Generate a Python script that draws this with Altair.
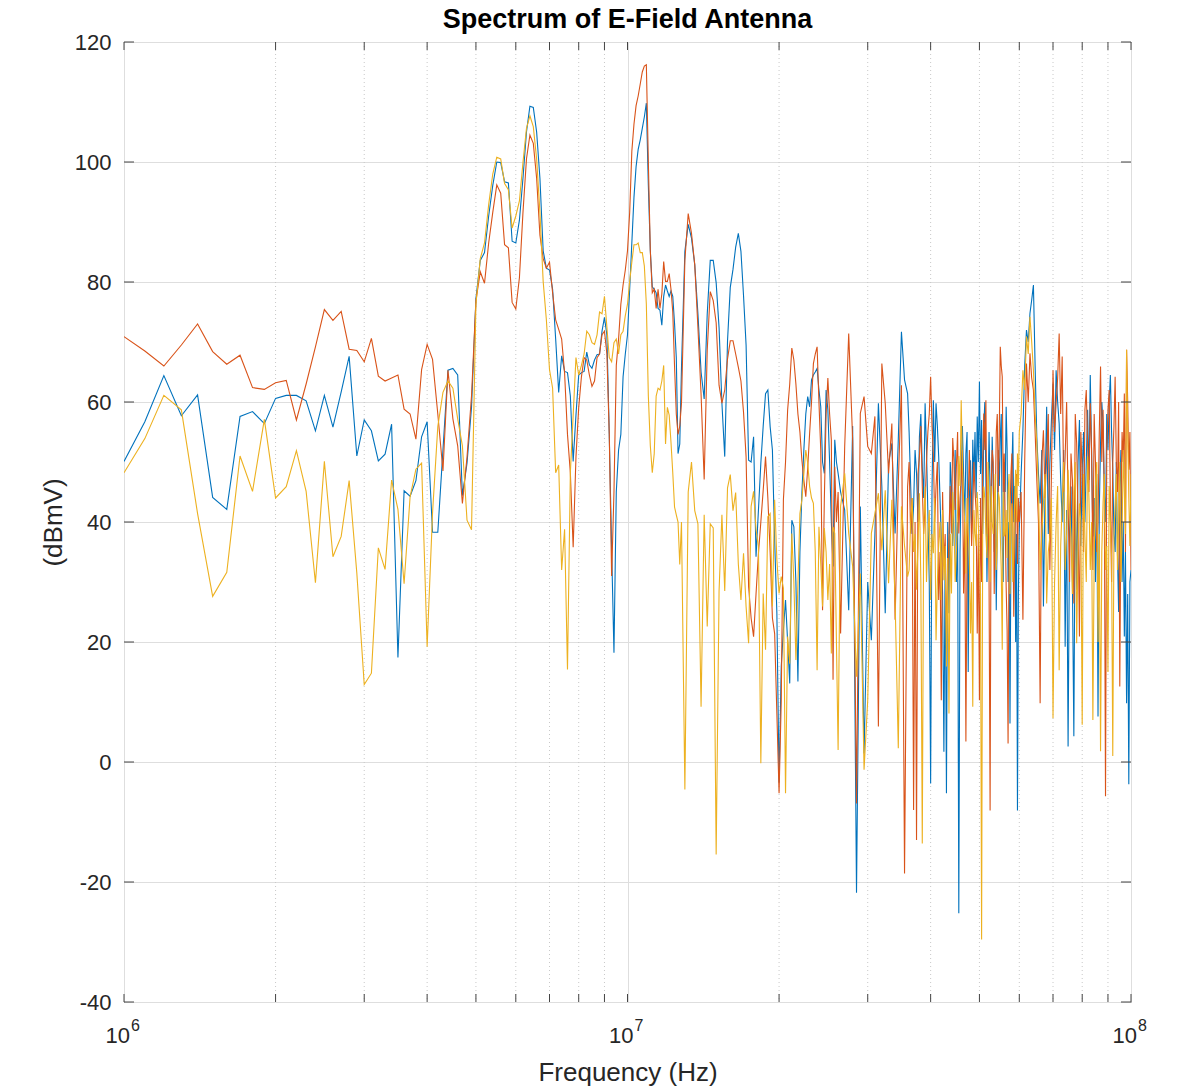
import altair as alt
import pandas as pd

TITLE = "Spectrum of E-Field Antenna"

# ---------------- frequency grid (MHz) ----------------
F_A = [round(1.0 + 0.1 * i, 2) for i in range(118)]    # 1.0 .. 12.7
F_B = [round(12.8 + 0.2 * i, 2) for i in range(37)]    # 12.8 .. 20.0
F_C = [round(20.2 + 0.2 * i, 2) for i in range(31)]    # 20.2 .. 26.2
F_D1 = [round(26.5 + 0.5 * i, 2) for i in range(20)]   # 26.5 .. 36.0
F_D2 = [round(36.25 + 0.25 * i, 2) for i in range(96)] # 36.25 .. 60.0
F_E = [round(60.5 + 0.5 * i, 2) for i in range(80)]    # 60.5 .. 100
FREQ_MHZ = F_A + F_B + F_C + F_D1 + F_D2 + F_E

# ---------------- series 1 (blue) ----------------
BLUE_A = [50.1, 56.7, 64.4, 57.7, 61.2, 44.1, 42.1, 57.6, 58.4, 56.4,
          60.6, 61.1, 61.1, 60.2, 55.2, 61.1, 55.8, 61.7, 67.6, 51.0,
          57.0, 55.2, 50.2, 51.3, 56.3, 17.4, 45.2, 44.3, 46.9, 54.2,
          56.7, 38.3, 38.3, 52.0, 65.3, 65.6, 64.5, 44.4, 49.8, 59.1,
          77.2, 83.6, 84.9, 91.0, 96.1, 100.0, 99.9, 96.7, 96.5, 86.8,
          86.5, 90.3, 97.3, 105.0, 109.3, 109.1, 105.0, 97.3, 85.2, 82.3,
          82.0, 78.8, 70.5, 61.6, 67.7, 65.1, 64.9, 61.0, 50.1, 57.8,
          64.5, 64.9, 65.1, 68.3, 66.2, 65.6, 67.0, 67.9, 68.0, 71.8,
          74.1, 71.2, 54.6, 35.5, 18.2, 45.0, 52.0, 54.6, 64.2, 68.0,
          71.2, 78.8, 86.5, 94.1, 99.2, 102.1, 103.7, 105.6, 107.5, 109.8,
          96.1, 85.2, 79.2, 78.8, 78.2, 75.6, 75.3, 72.8, 77.6, 79.5,
          78.5, 77.6, 78.5, 77.6, 73.1, 67.4, 51.4, 53.0]
BLUE_B = [65.7, 85.1, 89.6, 87.3, 82.9, 74.7, 65.0, 60.5, 74.7, 83.6,
          83.6, 79.9, 72.4, 59.8, 50.9, 70.2, 79.1, 82.1, 85.8, 88.1,
          85.1, 77.7, 69.5, 50.3, 50.0, 54.2, 34.2, 42.0, 49.8, 56.0,
          61.4, 62.0, 55.9, 52.0, 37.0, 24.8, -3.4]
BLUE_C = [15.9, 22.0, 27.0, 20.0, 13.1, 40.3, 39.2, 30.0, 13.4, 35.0,
          44.8, 52.0, 58.0, 60.9, 59.2, 63.7, 64.5, 65.0, 65.6, 62.0,
          59.2, 50.0, 48.1, 62.0, 58.7, 50.0, 40.0, 32.6, 53.7, 50.0, 48.1]
BLUE_D1 = [45.0, 42.0, 25.3, 56.0, -21.8, 42.6, 1.4, 30.0, 20.3, 38.0,
           59.8, 45.9, 24.8, 49.8, 53.1, 38.1, 53.7, 71.7, 63.7, 61.4]
BLUE_D2 = [55.0, 46.4, 38.0, 42.6, 52.0, 48.1, 40.0, 54.2, 58.0, 49.2,
           44.0, 59.8, 52.0, 41.4, 30.0, -3.6, 45.0, 60.3, 50.0, 59.8,
           56.0, 50.9, 44.0, 37.0, 28.0, 1.7, 35.0, -5.2, 40.0, 24.8,
           50.0, 45.9, 36.0, 42.6, 52.0, 30.0, 40.0, -25.2, 35.0, 48.0,
           56.0, 48.1, 40.0, 51.4, 55.0, 15.0, 44.0, 50.3, 38.0, 53.7,
           47.0, 55.0, 44.0, 57.6, 50.0, 63.4, 48.0, 57.0, 38.0, 55.9,
           60.0, 47.0, 30.0, 42.6, 55.0, 45.0, 40.0, 54.2, 48.0, 35.0,
           45.0, 25.3, 40.0, 52.0, 46.0, 54.0, 58.0, 36.4, 30.0, 50.0,
           45.0, 59.2, 52.0, 30.0, 40.0, 6.4, 36.0, 48.7, 55.0, 40.0,
           46.0, 20.0, 38.0, -8.1, 28.0, 38.7]
BLUE_E = [48.0, 55.3, 66.0, 72.0, 70.0, 74.8, 77.0, 79.5, 66.0, 54.2,
          48.0, 43.1, 52.0, 25.9, 45.0, 59.2, 38.0, 49.8, 57.0, 63.1,
          52.0, 65.3, 60.0, 56.4, 47.0, 40.0, 52.0, 19.2, 42.0, 2.6,
          38.0, 45.9, 30.0, 4.3, 46.0, 28.7, 50.0, 57.0, 36.0, 48.7,
          55.0, 40.0, 50.0, 58.7, 47.0, 64.5, 52.0, 37.6, 44.0, 30.0,
          48.0, 7.6, 42.0, 53.1, 60.0, 56.4, 45.0, 40.0, 58.0, 52.0,
          60.0, 64.5, 55.0, 48.7, 38.0, 35.0, 50.0, 34.8, 25.0, 45.0,
          52.0, 30.0, 40.0, 20.9, 35.0, 9.8, 28.0, -3.7, 30.0, 32.0]

# ---------------- series 2 (red) ----------------
RED_A = [70.9, 68.5, 66.0, 69.5, 73.0, 68.4, 66.3, 67.8, 62.4, 62.1,
         63.2, 63.6, 57.0, 63.0, 69.2, 75.4, 73.6, 75.1, 68.8, 68.6,
         66.7, 70.6, 64.3, 63.5, 64.0, 64.5, 58.8, 58.0, 53.8, 65.4,
         69.6, 67.1, 58.0, 48.5, 65.3, 57.2, 52.7, 43.1, 50.8, 61.0,
         76.9, 81.7, 79.8, 86.5, 91.6, 96.2, 94.8, 86.2, 85.7, 76.6,
         75.5, 80.7, 91.6, 100.5, 104.5, 103.1, 97.3, 87.8, 83.9, 82.3,
         83.3, 78.2, 73.7, 72.1, 70.5, 64.8, 54.6, 48.2, 35.8, 50.8,
         59.1, 64.2, 67.4, 67.0, 64.5, 62.6, 63.5, 67.4, 68.0, 71.2,
         71.8, 68.0, 54.6, 31.0, 45.0, 66.1, 70.5, 76.3, 79.5, 82.0,
         85.2, 91.6, 101.8, 106.3, 109.4, 111.0, 113.0, 115.0, 116.0, 116.2,
         100.0, 85.2, 78.2, 78.8, 75.6, 78.8, 75.6, 78.0, 83.4, 80.1,
         80.1, 81.4, 78.8, 75.0, 66.0, 58.0, 54.6, 56.0]
RED_B = [59.8, 83.6, 91.4, 88.1, 82.9, 72.4, 61.3, 47.1, 68.7, 78.4,
         76.9, 73.2, 62.8, 59.8, 62.0, 67.2, 70.2, 70.2, 68.0, 65.8,
         63.5, 58.3, 50.9, 29.2, 24.0, 20.9, 28.0, 34.8, 40.0, 45.3,
         50.9, 44.0, 35.0, 24.0, 21.4, 8.0, -5.2]
RED_C = [10.3, 43.7, 50.0, 58.7, 63.0, 69.0, 67.0, 63.0, 58.0, 55.0,
         50.3, 47.0, 44.2, 49.0, 54.8, 60.0, 66.4, 68.0, 69.2, 60.0,
         52.0, 25.3, 43.7, 58.0, 64.0, 58.0, 53.7, 13.7, 49.2, 40.0, 45.0]
RED_D1 = [21.4, 52.6, 71.4, 53.7, -6.9, 58.1, 60.9, 52.6, 51.4, 57.6,
          5.9, 66.4, 59.8, 48.1, 56.4, 23.7, 46.4, 62.8, -18.6, 45.9]
RED_D2 = [50.0, 38.1, 44.0, -8.0, 40.0, -13.0, 48.0, 50.9, 56.0, 45.9,
          38.0, 43.1, 50.0, 55.0, 58.0, 64.2, 56.0, 51.4, 40.0, 45.9,
          50.0, 27.0, 35.0, 10.3, 45.0, 32.6, 38.0, 21.4, 30.0, 38.0,
          46.0, 38.1, 54.0, 50.0, 42.0, 49.2, 55.0, 38.1, 44.0, 47.0,
          52.0, 28.1, 40.0, 3.4, 35.0, 43.7, 52.0, 44.8, 36.0, 42.0,
          50.0, 45.0, 42.0, 21.4, 38.0, 10.3, 44.0, 30.0, 50.0, 58.1,
          52.0, 60.3, 38.0, 45.0, 30.0, -8.1, 46.0, 52.0, 50.0, 28.0,
          42.0, 55.0, 58.0, 45.0, 55.0, 69.2, 66.0, 64.2, 45.0, 51.4,
          40.0, 29.2, 22.0, 3.1, 35.0, 42.0, 48.0, 51.4, 40.0, 24.2,
          36.0, 43.1, 48.0, 33.0, 44.0, 40.0]
RED_E = [45.0, 23.7, 50.0, 66.4, 60.0, 68.1, 64.0, 62.0, 55.0, 47.0,
         40.0, 9.8, 50.0, 55.3, 44.0, 50.9, 58.0, 32.0, 48.0, 65.3,
         55.0, 59.8, 64.0, 71.4, 58.0, 67.6, 45.0, 50.9, 60.0, 43.1,
         30.0, 51.4, 47.0, 26.4, 58.0, 53.1, 40.0, 20.9, 55.0, 48.7,
         35.0, 58.7, 62.0, 53.0, 45.0, 59.8, 52.0, 32.0, 58.0, 50.0,
         35.0, 40.0, 55.0, 65.9, 50.0, 58.7, 45.0, -5.7, 52.0, 58.7,
         62.0, 43.0, 30.0, 50.0, 56.0, 64.2, 50.0, 45.0, 60.0, 12.6,
         42.0, 55.0, 50.0, 61.4, 35.0, 68.7, 60.0, 48.7, 55.0, 32.0]

# ---------------- series 3 (yellow) ----------------
YEL_A = [48.2, 53.9, 61.1, 58.7, 41.4, 27.6, 31.6, 51.0, 45.1, 57.1,
         44.0, 45.9, 51.9, 45.1, 29.9, 50.1, 34.2, 37.6, 46.9, 31.5,
         12.9, 14.8, 35.7, 32.1, 47.0, 42.1, 29.7, 44.2, 48.8, 49.8,
         19.2, 41.5, 55.9, 61.6, 63.5, 62.3, 57.2, 52.7, 40.3, 38.7,
         76.3, 83.9, 86.5, 92.9, 98.0, 100.8, 100.5, 96.4, 95.4, 89.0,
         91.0, 93.5, 99.9, 105.6, 107.7, 105.9, 100.5, 91.6, 80.1, 73.7,
         65.4, 62.3, 48.2, 49.5, 32.0, 38.8, 15.4, 48.2, 57.8, 67.4,
         64.5, 66.1, 68.0, 71.8, 71.2, 69.9, 69.6, 71.2, 75.0, 74.7,
         77.6, 72.5, 67.4, 66.7, 69.9, 70.5, 68.0, 71.2, 71.8, 74.4,
         76.3, 80.1, 83.3, 86.2, 86.2, 86.5, 84.9, 84.9, 82.7, 76.3,
         61.0, 52.7, 48.2, 51.4, 61.0, 62.3, 62.0, 63.5, 66.1, 53.0,
         59.1, 57.8, 53.3, 48.2, 42.5, 41.2, 40.0, 32.9]
YEL_B = [40.0, -4.6, 45.0, 50.0, 41.9, 39.7, 9.2, 41.2, 22.6, 39.7,
         39.0, -15.4, 28.5, 41.2, 28.5, 45.7, 47.9, 41.9, 44.9, 33.0,
         27.0, 34.8, 25.9, 19.8, 42.6, 45.1, 38.7, 36.0, -0.2, 28.1,
         18.7, 40.9, 41.4, 25.9, 43.7, 33.7, 28.1]
YEL_C = [30.9, 29.0, -5.2, 20.9, 16.4, 38.1, 30.0, 17.0, 29.8, 41.4,
         43.7, 48.0, 52.0, 49.8, 45.9, 44.0, 43.1, 35.0, 15.3, 39.2,
         33.0, 25.9, 39.0, 35.0, 27.0, 33.0, 18.1, 39.2, 38.1, 20.0, 2.0]
YEL_D1 = [42.6, 48.1, 38.1, 32.6, 14.2, 31.4, -1.3, 10.3, 38.1, 41.4,
          44.8, 35.3, 45.3, 29.8, 43.7, 27.0, 2.3, 42.6, 36.0, 30.9]
YEL_D2 = [32.0, 39.8, 44.0, 35.0, 38.0, 28.7, 36.0, 44.8, 30.0, -13.6,
          40.0, 45.9, 30.0, 38.1, 42.0, 27.0, 38.0, 34.8, 44.0, 20.3,
          30.0, 36.4, 40.0, 27.0, 42.0, 30.3, 36.0, 15.9, 34.0, 8.1,
          38.0, 28.1, 45.0, 40.0, 30.0, 35.0, 42.0, 51.0, 46.0, 60.3,
          50.0, 43.7, 40.0, 31.4, 44.0, 38.1, 34.0, 21.4, 30.0, 9.2,
          42.0, 38.1, 36.0, 45.0, 40.0, 33.0, 28.0, -29.6, 38.0, 45.9,
          44.0, 38.1, 34.0, 50.0, 42.0, 30.0, 46.0, 40.0, 38.0, 43.1,
          48.0, 32.0, 36.0, 45.0, 44.0, 38.0, 32.0, 18.7, 45.0, 37.6,
          38.0, 42.0, 34.0, 45.0, 48.0, 28.0, 40.0, 43.1, 30.0, 35.0,
          44.0, 48.7, 40.0, 51.4, 46.0, 55.0]
YEL_E = [58.0, 65.3, 62.0, 70.9, 68.0, 74.2, 70.0, 65.3, 58.0, 53.1,
         45.0, 32.0, 38.0, 43.1, 48.0, 26.4, 35.0, 37.6, 44.0, 7.3,
         30.0, 39.8, 46.0, 15.3, 36.0, 43.1, 50.0, 32.0, 38.0, 48.7,
         42.0, 37.6, 28.0, 45.0, 50.0, 19.8, 36.0, 43.1, 40.0, 6.2,
         48.0, 37.6, 30.0, 50.9, 44.0, 32.0, 40.0, 7.0, 34.0, 45.9,
         50.0, 20.0, 38.0, 1.8, 35.0, 43.1, 48.0, 32.0, 36.0, 15.0,
         46.0, 40.0, 34.0, 1.0, 38.0, 43.1, 48.0, 32.0, 40.0, 50.0,
         30.0, 37.6, 52.0, 45.0, 38.0, 68.7, 55.0, 44.0, 36.0, 48.0]

BLUE = BLUE_A + BLUE_B + BLUE_C + BLUE_D1 + BLUE_D2 + BLUE_E
RED = RED_A + RED_B + RED_C + RED_D1 + RED_D2 + RED_E
YELLOW = YEL_A + YEL_B + YEL_C + YEL_D1 + YEL_D2 + YEL_E
assert len(BLUE) == len(RED) == len(YELLOW) == len(FREQ_MHZ)

# ---------------- axis helpers ----------------
Y_TICKS = list(range(-40, 121, 20))
DECADES = [1e6, 1e7, 1e8]
EXPONENTS = ["6", "7", "8"]
MINOR = [m * d for d in (1e6, 1e7) for m in range(2, 10)]

COLORS = ["#0072BD", "#D95319", "#EDB120"]
FONT = "Liberation Sans"
W, H = 1007, 960

xs = alt.Scale(type="log", domain=[1e6, 1e8], nice=False)
ys = alt.Scale(domain=[-40, 120], nice=False, zero=False)

x_axis = alt.Axis(values=DECADES, labels=False, ticks=False, domain=False,
                  grid=True, gridColor="#dedede", gridWidth=1,
                  title="Frequency (Hz)", titleFont=FONT, titleFontSize=26,
                  titleFontWeight="normal", titleColor="#262626",
                  titleY=78, titleBaseline="alphabetic")
y_axis = alt.Axis(values=Y_TICKS, ticks=False, domain=False, grid=True,
                  gridColor="#dedede", gridWidth=1,
                  labelFont=FONT, labelFontSize=22, labelColor="#262626",
                  labelPadding=13, labelExpr="'' + datum.value",
                  title="(dBmV)", titleFont=FONT, titleFontSize=26,
                  titleFontWeight="normal", titleColor="#262626",
                  titleAngle=270, titleX=-63, titleY=480, titleAlign="center",
                  titleBaseline="alphabetic")


def X(field):
    return alt.X(field, type="quantitative", scale=xs, axis=x_axis)


def Y(field):
    return alt.Y(field, type="quantitative", scale=ys, axis=y_axis)


freq_hz = [f * 1e6 for f in FREQ_MHZ]

minor_grid = alt.Chart(pd.DataFrame({"t": MINOR})).mark_rule(
    color="#c8c8c8", strokeDash=[1, 3], strokeWidth=1
).encode(x=X("t"))

lines = []
for vals, col in zip([BLUE, RED, YELLOW], COLORS):
    df = pd.DataFrame({"f": freq_hz, "v": vals})
    lines.append(
        alt.Chart(df).mark_line(color=col, strokeWidth=1.1, clip=True)
        .encode(x=X("f"), y=Y("v"))
    )

ydf = pd.DataFrame({"v": Y_TICKS})
yt_left = alt.Chart(ydf).mark_rule(color="#444444").encode(
    y=Y("v"), x=alt.value(0), x2=alt.value(10))
yt_right = alt.Chart(ydf).mark_rule(color="#444444").encode(
    y=Y("v"), x=alt.value(W - 10), x2=alt.value(W))

xdf = pd.DataFrame({"t": DECADES + MINOR})
xt_bottom = alt.Chart(xdf).mark_rule(color="#444444").encode(
    x=X("t"), y=alt.value(H - 8), y2=alt.value(H))
xt_top = alt.Chart(xdf).mark_rule(color="#444444").encode(
    x=X("t"), y=alt.value(0), y2=alt.value(8))

ddf = pd.DataFrame({"t": DECADES, "base": ["10"] * 3, "exp": EXPONENTS})
lab_base = alt.Chart(ddf).mark_text(
    align="right", baseline="alphabetic", dx=6, fontSize=22, font=FONT,
    color="#262626"
).encode(x=X("t"), y=alt.value(1001), text="base:N")
lab_exp = alt.Chart(ddf).mark_text(
    align="left", baseline="alphabetic", dx=7, fontSize=16, font=FONT,
    color="#262626"
).encode(x=X("t"), y=alt.value(989), text="exp:N")

title_layer = alt.Chart(pd.DataFrame({"title": [TITLE]})).mark_text(
    align="center", baseline="alphabetic", fontSize=27, fontWeight="bold",
    font=FONT, color="#000000"
).encode(x=alt.value(W / 2), y=alt.value(-14), text="title:N")

chart = alt.layer(
    minor_grid, *lines, yt_left, yt_right, xt_bottom, xt_top,
    lab_base, lab_exp, title_layer
).properties(
    width=W, height=H,
    autosize=alt.AutoSizeParams(type="none"),
    padding={"left": 124, "top": 42, "right": 65, "bottom": 88},
    background="white",
).configure_view(stroke="#444444", strokeWidth=1)

chart.save("out.html", embed_options={"renderer": "svg", "actions": False})
